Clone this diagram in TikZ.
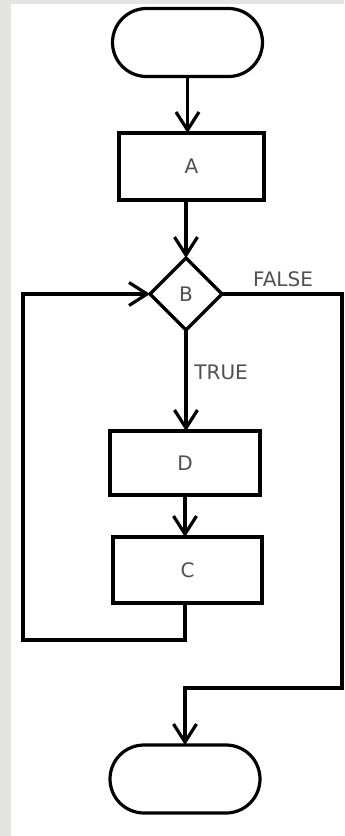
\documentclass[tikz,border=0pt]{standalone}
\usepackage{fontspec}
\setmainfont{DejaVu Sans}
\usepackage{xcolor}
\usetikzlibrary{positioning,arrows.meta,calc,shapes.geometric,shapes.misc}
\definecolor{pagebg}{RGB}{229,228,223}
\definecolor{labelgray}{RGB}{80,80,80}
\tikzset{
  line/.style={draw=black,line width=1.6pt},
  blk/.style={line,rectangle,inner sep=0pt,outer sep=0pt,font=\normalsize,
              text=labelgray},
  term/.style={line,rounded rectangle,inner sep=0pt,outer sep=0pt,
               minimum width=75pt,minimum height=34pt},
  test/.style={line,diamond,aspect=1,inner sep=0pt,outer sep=0pt,
               minimum size=36pt,font=\normalsize,text=labelgray},
  sig/.style={line,-{Straight Barb[length=9pt,width=11.5pt,line width=1.6pt]}},
  lbl/.style={font=\normalsize,text=labelgray,inner sep=0pt},
}

\begin{document}
\begin{tikzpicture}[x=0.5pt,y=-0.5pt]
  % --- page and panel ---
  \useasboundingbox (0,0) rectangle (344,836);
  \fill[pagebg] (0,0) rectangle (344,836);
  \fill[white] (11,4) rectangle (344,836);
  % --- nodes ---
  \node[term] (start) at (187.5,42.5) {};
  \node[blk,minimum width=72.5pt,minimum height=33.5pt] (A) at (191.5,166.5) {A};
  \node[test] (B) at (186,294) {B};
  \node[blk,minimum width=75pt,minimum height=32pt] (D) at (185,463) {D};
  \node[blk,minimum width=74.5pt,minimum height=33pt] (C) at (187.5,570) {C};
  \node[term] (stop) at (185,779) {};
  % labels
  \node[lbl] (false) at (283,279) {FALSE};
  \node[lbl,anchor=west] (true) at (194,372) {TRUE};
  % --- corners of the loop and the exit ---
  \coordinate (loopr) at (185,640);
  \coordinate (loopl) at (23,640);
  \coordinate (exittop) at (342,294);
  \coordinate (exitbot) at (342,688);
  \coordinate (exitin) at (185,688);
  % --- connectors ---
  \draw[sig] (start.south) -- (start.south |- A.north);
  \draw[sig] (A.south -| B.north) -- (B.north);
  \draw[sig] (B.south) -- (B.south |- D.north);
  \draw[sig] (D.south) -- (D.south |- C.north);
  \draw[sig] (C.south -| loopr) -- (loopr) -- (loopl) -- (loopl |- B.west) -- (B.west);
  \draw[sig] (B.east) -- (exittop) -- (exitbot) -- (exitin) -- (exitin |- stop.north);
\end{tikzpicture}
\end{document}
